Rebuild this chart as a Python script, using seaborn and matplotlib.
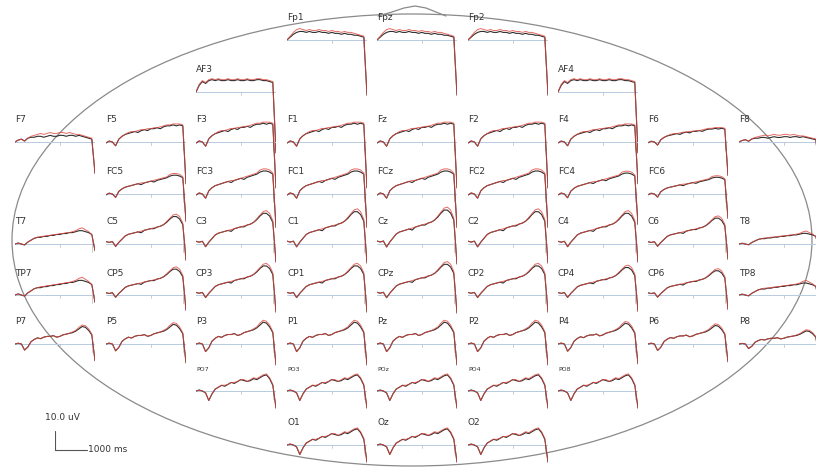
import numpy as np
import pandas as pd
import matplotlib
matplotlib.use("Agg")
import matplotlib.pyplot as plt
from matplotlib.patches import Ellipse
import seaborn as sns

# ------------------------------------------------------------
# данные: время (мс) и формы ERP (мкВ), считанные с картинки
# последний отсчёт каждой формы - резкий спад в конце эпохи
# ------------------------------------------------------------
TIME_MS = list(range(0, 2600, 100))

FP_BLACK = [0, 1.5, 3, 4, 4.5, 4.5, 4, 4.5, 4, 4, 4.5, 4, 4, 3.5, 4, 3.5, 3.5, 3, 3.5, 3, 3, 2.5, 2.5, 2, 1.5, -29]
FP_RED = [0, 2, 4, 5.5, 6, 5.5, 5, 5.5, 5, 5, 5.5, 5, 5, 4.5, 5, 4.5, 4.5, 4, 4.5, 4, 4, 3.5, 3, 2.5, 2, -29]

AF_BLACK = [0, 3.5, 5.5, 4.5, 6, 6.5, 6, 6.5, 6, 6, 6.5, 6, 6, 6.5, 6, 6, 6.5, 6, 6, 6.5, 6.5, 6, 6, 5.5, 5, -32]
AF_RED = [0, 4, 6, 5, 6.5, 7, 6.5, 7, 6.5, 6.5, 7, 6.5, 6.5, 7, 6.5, 6.5, 7, 6.5, 6.5, 7, 7, 6.5, 6.5, 6, 5.5, -32]

FLAT_BLACK = [0, 1, 1.5, 0.5, 2, 2.5, 2.5, 3, 3, 2.5, 3, 3.5, 3, 3, 3.5, 3.5, 3, 3.5, 3.5, 3, 3.5, 3, 2.5, 2, 1.5, -16.5]
FLAT_RED = [0, 1, 1.5, 0.5, 2, 3, 3.5, 4, 4.5, 4, 4.5, 5, 4.5, 4.5, 5, 5, 4.5, 5, 4.5, 4, 4, 3.5, 3, 2.5, 2, -16.5]

FRONT_BLACK = [-0.5, 0.5, 0, -2, 1.5, 3, 4, 4.5, 5, 5.5, 5, 6, 6.5, 6, 7, 7, 7.5, 7, 8, 8.5, 8.5, 9, 8.5, 9, 8.5, -22]
FRONT_RED = [-0.5, 0.5, 0, -2, 1.5, 3, 4, 5, 5.5, 5.5, 6, 6.5, 6.5, 7, 7, 7.5, 7.5, 8, 8.5, 9, 9, 9.5, 9.5, 9.5, 9, -22]

FC_BLACK = [-0.5, 0.5, 0, -2, 1.5, 3, 4, 4.5, 5, 5.5, 6, 5.5, 6.5, 7, 7.5, 7, 8, 8.5, 9, 9.5, 10.5, 11, 11, 10.5, 9.5, -16]
FC_RED = [-0.5, 0.5, 0, -2, 1.5, 3, 4, 4.5, 5, 5.5, 6, 6.5, 6.5, 7, 7.5, 8, 8.5, 9, 9.5, 10, 11.5, 12, 12, 11.5, 10, -16]

CENT_BLACK = [1.5, 1, 1.5, -1.5, 1, 3, 5, 6, 6.5, 7, 7.5, 7, 8.5, 9, 9.5, 9.5, 10.5, 11, 12, 13.5, 15.5, 17, 17, 15.5, 12, -10]
CENT_RED = [1.5, 1, 1.5, -1.5, 1, 3, 5, 6, 6.5, 7, 7.5, 8, 8.5, 9, 9.5, 10, 10.5, 11, 12, 14, 16, 18, 18.5, 17, 13, -10]

TEMP_BLACK = [0, 0.5, 0, -0.5, 1, 2, 3, 3.5, 3.5, 4, 4, 4.5, 4.5, 5, 5, 5.5, 5.5, 6, 6, 6.5, 7, 7, 6.5, 6, 5, -3.5]
TEMP_RED = [0, 0.5, 0, -0.5, 1, 2, 3, 3.5, 4, 4, 4.5, 4.5, 5, 5, 5.5, 5.5, 6, 6, 6.5, 7, 8, 8.5, 7.5, 6.5, 5, -3.5]

PAR_BLACK = [0, 0.5, 0, -4, -2, 1.5, 3, 4, 3.5, 4.5, 5, 5, 5.5, 4.5, 5, 6, 6.5, 7, 7.5, 8.5, 10, 11.5, 11, 9, 6, -11]
PAR_RED = [0, 0.5, 0, -4, -2, 1.5, 3, 4, 3.5, 4.5, 5, 5, 5.5, 4.5, 5, 6, 6.5, 7, 8, 9, 11, 12.5, 12, 10, 6.5, -11]

OCC_BLACK = [0, 0.5, 0, -1, -5, -1.5, 1, 2, 3, 2.5, 3.5, 4.5, 4, 5, 6, 5.5, 5, 5.5, 6.5, 6, 7, 8, 8.5, 6.5, 3, -9]
OCC_RED = [0, 0.5, 0, -1, -5, -1.5, 1, 2, 3, 3, 3.5, 4.5, 4.5, 5, 6, 6, 5, 6, 7, 6.5, 7.5, 8.5, 9, 7, 3.5, -9]

# каналы: имя, колонка, ряд, форма, усиление
CHANNELS = ["Fp1", "Fpz", "Fp2",
            "AF3", "AF4",
            "F7", "F5", "F3", "F1", "Fz", "F2", "F4", "F6", "F8",
            "FC5", "FC3", "FC1", "FCz", "FC2", "FC4", "FC6",
            "T7", "C5", "C3", "C1", "Cz", "C2", "C4", "C6", "T8",
            "TP7", "CP5", "CP3", "CP1", "CPz", "CP2", "CP4", "CP6", "TP8",
            "P7", "P5", "P3", "P1", "Pz", "P2", "P4", "P6", "P8",
            "PO7", "PO3", "POz", "PO4", "PO8",
            "O1", "Oz", "O2"]
CH_COL = [3, 4, 5,
          2, 6,
          0, 1, 2, 3, 4, 5, 6, 7, 8,
          1, 2, 3, 4, 5, 6, 7,
          0, 1, 2, 3, 4, 5, 6, 7, 8,
          0, 1, 2, 3, 4, 5, 6, 7, 8,
          0, 1, 2, 3, 4, 5, 6, 7, 8,
          2, 3, 4, 5, 6,
          3, 4, 5]
CH_ROW = [0] * 3 + [1] * 2 + [2] * 9 + [3] * 7 + [4] * 9 + [5] * 9 + [6] * 9 + [7] * 5 + [8] * 3
CH_SHAPE = ["fp"] * 3 + ["af"] * 2 \
    + ["flat"] + ["front"] * 7 + ["flat"] \
    + ["fc"] * 7 \
    + ["temp"] + ["cent"] * 7 + ["temp"] \
    + ["temp"] + ["cent"] * 7 + ["temp"] \
    + ["par"] * 9 \
    + ["occ"] * 5 + ["occ"] * 3
CH_GAIN = [1.0, 1.0, 1.0,
           1.0, 1.0,
           1.0, 1.0, 1.1, 1.1, 1.1, 1.1, 1.0, 0.8, 0.8,
           0.9, 1.1, 1.1, 1.1, 1.1, 1.0, 0.8,
           1.0, 0.85, 0.95, 1.0, 1.05, 1.0, 0.95, 0.8, 0.8,
           1.1, 0.8, 0.9, 0.9, 0.95, 0.9, 0.85, 0.75, 0.9,
           0.8, 0.9, 1.0, 1.0, 1.0, 1.0, 0.95, 0.85, 0.6,
           1.0, 1.0, 1.0, 1.0, 1.0,
           1.0, 1.0, 1.0]

SHAPES = {"fp": (FP_BLACK, FP_RED), "af": (AF_BLACK, AF_RED),
          "flat": (FLAT_BLACK, FLAT_RED), "front": (FRONT_BLACK, FRONT_RED),
          "fc": (FC_BLACK, FC_RED), "cent": (CENT_BLACK, CENT_RED),
          "temp": (TEMP_BLACK, TEMP_RED), "par": (PAR_BLACK, PAR_RED),
          "occ": (OCC_BLACK, OCC_RED)}

# ------------------------------------------------------------
# раскладка (пиксели картинки 816x470)
# ------------------------------------------------------------
W, H = 816, 470
COL_X = [15, 106, 196, 287, 377, 468, 558, 648, 739]
ROW_BASE = [40, 92, 142, 194, 244, 295, 344, 391, 445]
PX_PER_MS = 0.032
PX_PER_UV = 1.9
ABOVE, BELOW = 40, 80

sns.set_theme(style="white")
plt.rcParams["font.family"] = ["DejaVu Sans"]

fig = plt.figure(figsize=(W / 100, H / 100), dpi=100)

# контур головы
bg = fig.add_axes([0, 0, 1, 1])
bg.set_xlim(0, W)
bg.set_ylim(H, 0)
bg.axis("off")
bg.add_patch(Ellipse((412, 240), 800, 452, fill=False, ec="#8a8a8a", lw=0.9))
bg.plot([378, 392, 404, 415, 426, 436, 446], [16, 12, 8, 6, 8, 12, 16], color="#8a8a8a", lw=0.9)


def add_panel(left_px, base_px):
    width_px = 2500 * PX_PER_MS
    ax = fig.add_axes([left_px / W, 1 - (base_px + BELOW) / H,
                       width_px / W, (ABOVE + BELOW) / H])
    ax.set_xlim(0, 2500)
    ax.set_ylim(-BELOW / PX_PER_UV, ABOVE / PX_PER_UV)
    ax.axis("off")
    ax.patch.set_alpha(0)
    return ax


for name, col, row, shape, gain in zip(CHANNELS, CH_COL, CH_ROW, CH_SHAPE, CH_GAIN):
    ax = add_panel(COL_X[col], ROW_BASE[row])
    ax.axhline(0, color="#b7cbe0", lw=0.7, zorder=1)
    # мелкие засечки на оси времени
    ax.plot([1400, 1400], [0, -1.5], color="#c4c4c4", lw=0.6, zorder=1)
    ax.plot([2400, 2400], [1, -4], color="#c4c4c4", lw=0.6, zorder=1)
    black, red = SHAPES[shape]
    df = pd.DataFrame({"t": TIME_MS,
                       "black": np.array(black) * gain,
                       "red": np.array(red) * gain})
    sns.lineplot(data=df, x="t", y="black", ax=ax, color="#2e2e2e", lw=0.8,
                 estimator=None, zorder=2)
    sns.lineplot(data=df, x="t", y="red", ax=ax, color="#e0463c", lw=0.7,
                 alpha=0.8, estimator=None, zorder=3)
    fs = 4.5 if row == 7 else 6.5
    ax.text(0, 22 / PX_PER_UV, name, fontsize=fs, color="#333333",
            ha="left", va="center")

# масштабная линейка
sb = add_panel(55, 450)
sb.plot([0, 0, 1000], [10, 0, 0], color="#555555", lw=0.8)
sb.text(-320, 17, "10.0 uV", fontsize=6.5, color="#333333", ha="left", va="center")
sb.text(1040, 0, "1000 ms", fontsize=6.5, color="#333333", ha="left", va="center")

fig.savefig("out.png", dpi=100)
